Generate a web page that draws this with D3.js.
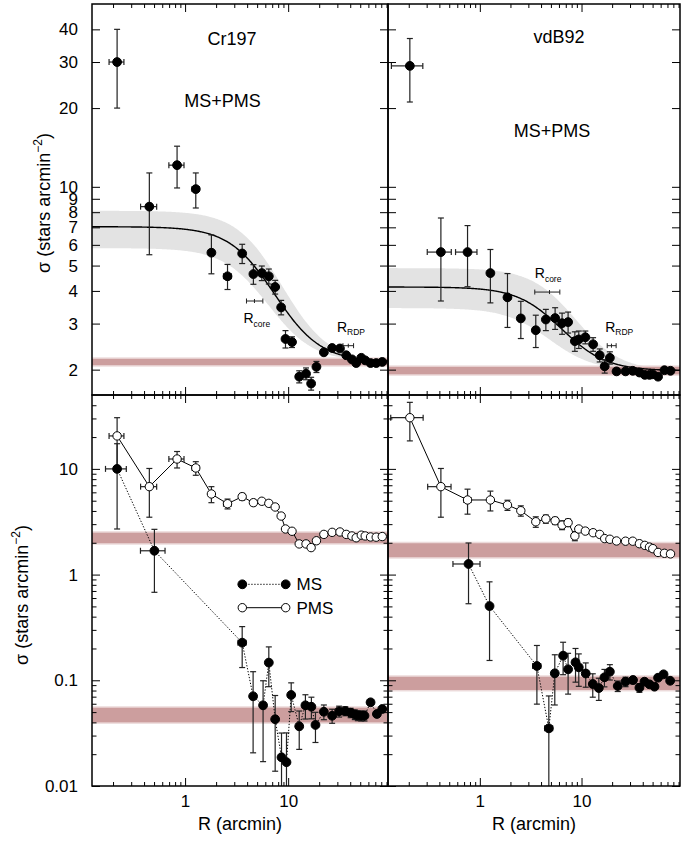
<!DOCTYPE html>
<html>
<head>
<meta charset="utf-8">
<script src="https://cdn.jsdelivr.net/npm/d3@7"></script>
<style>
  body { margin: 0; background: #fff; }
  svg { display: block; }
  text { font-family: "Liberation Sans", Arial, Helvetica, sans-serif; fill: #000; }
</style>
</head>
<body>
<svg id="chart" width="681" height="841"></svg>
<script>
// ---------------- data ----------------
// Cr197, all stars (MS+PMS)
const radiusCr197 = [0.219, 0.45, 0.836, 1.27, 1.80, 2.58, 3.58, 4.60, 5.55, 6.49, 7.48, 8.55, 9.42, 10.9, 12.8, 14.9, 16.7, 18.8, 22.2, 26.7, 31.8, 36.6, 41.5, 45.7, 51.2, 55.9, 63.0, 71.5, 81.8];
const radiusErrCr197 = [0.036, 0.08, 0.14, 0.1, 0.1, 0.22, 0.2, 0, 0, 0, 0, 0, 0, 0, 0, 0, 0, 0, 0, 0, 0, 0, 0, 0, 0, 0, 0, 0, 0];
const sigmaAllCr197 = [30.0, 8.4, 12.1, 9.8, 5.6, 4.55, 5.56, 4.64, 4.68, 4.55, 4.14, 3.46, 2.62, 2.55, 1.88, 1.93, 1.77, 2.05, 2.33, 2.42, 2.41, 2.27, 2.19, 2.12, 2.22, 2.17, 2.12, 2.12, 2.14];
const sigmaAllErrCr197 = [10, 2.9, 2.2, 1.5, 0.95, 0.5, 0.47, 0.4, 0.3, 0.3, 0.25, 0.22, 0.2, 0.12, 0.1, 0.1, 0.1, 0.1, 0.05, 0.05, 0.04, 0.04, 0.04, 0.03, 0.03, 0.03, 0.03, 0.03, 0.03];
// Cr197, PMS stars (same radial bins)
const sigmaPmsCr197 = [20.5, 6.79, 12.4, 10.2, 5.79, 4.68, 5.46, 4.79, 4.94, 4.72, 4.36, 3.58, 2.70, 2.57, 1.95, 1.95, 1.80, 2.09, 2.40, 2.51, 2.53, 2.40, 2.32, 2.23, 2.36, 2.32, 2.27, 2.26, 2.29];
const sigmaPmsErrCr197 = [10, 3.3, 2.2, 1.5, 1.0, 0.5, 0.4, 0.3, 0.25, 0.25, 0.2, 0.15, 0.12, 0.1, 0.08, 0.08, 0.08, 0.08, 0.05, 0.04, 0.04, 0.04, 0.04, 0.04, 0.04, 0.04, 0.04, 0.04, 0.04];
// Cr197, MS stars
const radiusMsCr197 = [0.219, 0.504, 3.58, 4.57, 5.71, 6.49, 7.48, 8.62, 9.63, 10.7, 12.8, 14.7, 16.8, 18.4, 22.2, 26.7, 31.2, 35.8, 40.4, 44.3, 47.4, 51.1, 55.0, 63.0, 72.6, 81.8];
const radiusMsErrCr197 = [0.05, 0.135, 0.32, 0, 0, 0, 0, 0, 0, 0, 0, 0, 0, 0, 0, 0, 0, 0, 0, 0, 0, 0, 0, 0, 0, 0];
const sigmaMsCr197 = [10.0, 1.68, 0.227, 0.0706, 0.058, 0.147, 0.0428, 0.0187, 0.0168, 0.0726, 0.0367, 0.058, 0.0562, 0.0378, 0.0504, 0.0462, 0.0509, 0.0512, 0.0493, 0.0475, 0.0465, 0.0462, 0.0462, 0.0619, 0.048, 0.0535];
const sigmaMsErrCr197 = [7.3, 1.0, 0.095, 0.05, 0.041, 0.06, 0.029, 0.013, 0.015, 0.022, 0.0145, 0.015, 0.013, 0.012, 0.008, 0.007, 0.006, 0.005, 0.005, 0.005, 0.005, 0.005, 0.005, 0.003, 0.003, 0.003];

// vdB92, all stars (MS+PMS)
const radiusVdB92 = [0.205, 0.414, 0.757, 1.27, 1.87, 2.53, 3.55, 4.46, 5.50, 6.44, 7.38, 8.60, 9.40, 10.9, 13.0, 15.1, 16.9, 19.0, 22.1, 27.1, 31.9, 37.1, 41.9, 46.6, 50.2, 56.6, 65.4, 75.0];
const radiusErrVdB92 = [0.07, 0.11, 0.18, 0.08, 0, 0, 0, 0, 0, 0, 0, 0, 0, 0, 0, 0, 0, 0, 0, 0, 0, 0, 0, 0, 0, 0, 0, 0];
const sigmaAllVdB92 = [29.0, 5.63, 5.63, 4.68, 3.78, 3.14, 2.83, 3.11, 3.15, 3.01, 3.04, 2.57, 2.61, 2.66, 2.50, 2.27, 2.06, 2.22, 1.97, 1.97, 1.98, 1.95, 1.91, 1.91, 1.92, 1.88, 1.99, 1.98];
const sigmaAllErrVdB92 = [7.9, 1.97, 1.48, 1.08, 0.88, 0.51, 0.4, 0.29, 0.3, 0.28, 0.28, 0.22, 0.2, 0.15, 0.15, 0.13, 0.12, 0.12, 0.05, 0.04, 0.04, 0.04, 0.04, 0.04, 0.03, 0.03, 0.03, 0.03];
// vdB92, PMS stars
const radiusPmsErrVdB92 = [0.072, 0.107, 0.06, 0.05, 0, 0, 0, 0, 0, 0, 0, 0, 0, 0, 0, 0, 0, 0, 0, 0, 0, 0, 0, 0, 0, 0, 0, 0];
const sigmaPmsVdB92 = [30.5, 6.79, 5.08, 5.08, 4.55, 4.02, 3.16, 3.36, 3.23, 2.94, 3.10, 2.32, 2.70, 2.58, 2.49, 2.40, 2.19, 2.16, 2.08, 2.07, 2.07, 1.96, 1.89, 1.82, 1.76, 1.62, 1.59, 1.57];
const sigmaPmsErrVdB92 = [12.1, 3.3, 1.35, 1.08, 0.5, 0.45, 0.36, 0.3, 0.25, 0.28, 0.25, 0.23, 0.1, 0.08, 0.06, 0.06, 0.05, 0.05, 0.04, 0.04, 0.04, 0.04, 0.04, 0.04, 0.04, 0.04, 0.04, 0.04];
// vdB92, MS stars
const radiusMsVdB92 = [0.774, 1.246, 3.64, 4.77, 5.46, 6.59, 7.38, 8.73, 9.40, 11.0, 12.9, 14.8, 16.8, 19.0, 22.7, 27.1, 32.1, 37.1, 41.6, 46.6, 52.2, 56.6, 64.1, 74.4];
const radiusMsErrVdB92 = [0.23, 0, 0.33, 0.43, 0, 0, 0, 0, 0, 0, 0, 0, 0, 0, 0, 0, 0, 0, 0, 0, 0, 0, 0, 0];
const sigmaMsVdB92 = [1.26, 0.504, 0.1365, 0.0351, 0.1164, 0.171, 0.127, 0.148, 0.1327, 0.116, 0.0922, 0.0845, 0.1067, 0.1206, 0.0883, 0.097, 0.1006, 0.085, 0.097, 0.0916, 0.087, 0.1058, 0.1139, 0.099];
const sigmaMsErrVdB92 = [0.73, 0.35, 0.077, 0.036, 0.058, 0.058, 0.053, 0.052, 0.045, 0.03, 0.023, 0.02, 0.02, 0.02, 0.01, 0.01, 0.008, 0.008, 0.006, 0.006, 0.005, 0.005, 0.005, 0.005];

// King-profile fits: [background, central excess density, core radius]
const kingFitCr197 = [2.14, 4.9, 5.5];
const kingUpperCr197 = [2.14, 5.96, 6.3];
const kingLowerCr197 = [2.14, 3.69, 5.0];
const kingFitVdB92 = [1.98, 2.16, 5.3];
const kingUpperVdB92 = [1.98, 2.91, 7.0];
const kingLowerVdB92 = [1.98, 1.46, 4.2];

// Field background levels [low, high]
const bgAllCr197 = [2.08, 2.20];
const bgPmsCr197 = [1.98, 2.49];
const bgMsCr197 = [0.040, 0.055];
const bgAllVdB92 = [1.92, 2.05];
const bgPmsVdB92 = [1.46, 1.98];
const bgMsVdB92 = [0.081, 0.108];

// Core and RDP radii markers: [value, low, high, sigma level]
const rCoreCr197 = [4.71, 3.94, 5.68, 3.66];
const rRdpCr197 = [38.3, 34.0, 43.1, 2.47];
const rCoreVdB92 = [4.84, 3.47, 6.12, 3.96];
const rRdpVdB92 = [19.7, 17.9, 21.9, 2.47];

// Axes
const xDomain = [0.125, 93];
const sigmaTopDomain = [1.6, 50];
const sigmaBottomDomain = [0.01, 50];
const xLabelTicks = [1, 10];
const yTopLabelTicks = [2, 3, 4, 5, 6, 7, 8, 9, 10, 20, 30, 40];
const yBottomLabelTicks = [0.01, 0.1, 1, 10];

// ---------------- drawing ----------------
const svg = d3.select('#chart');
svg.append('rect').attr('width', 681).attr('height', 841).attr('fill', '#fff');

const frame = { left: 92, mid: 388, right: 680, top: 4, midY: 395, bottom: 786 };
const king = p => r => p[0] + p[1] / (1 + (r / p[2]) ** 2);
const rGrid = d3.range(0, 301).map(i => xDomain[0] * Math.pow(xDomain[1] / xDomain[0], i / 300));

function makePanel(id, x0, x1, y0, y1, yDomain) {
  const x = d3.scaleLog().domain(xDomain).range([x0, x1]);
  const y = d3.scaleLog().domain(yDomain).range([y1, y0]);
  svg.append('clipPath').attr('id', 'clip-' + id)
    .append('rect').attr('x', x0).attr('y', y0).attr('width', x1 - x0).attr('height', y1 - y0);
  const g = svg.append('g').attr('clip-path', `url(#clip-${id})`);
  return { id, x, y, x0, x1, y0, y1, g };
}

function band(p, range) {
  p.g.append('rect')
    .attr('x', p.x0).attr('width', p.x1 - p.x0)
    .attr('y', p.y(range[1]) - 1.5).attr('height', p.y(range[0]) - p.y(range[1]) + 3)
    .attr('fill', '#ecdada');
  p.g.append('rect')
    .attr('x', p.x0).attr('width', p.x1 - p.x0)
    .attr('y', p.y(range[1])).attr('height', p.y(range[0]) - p.y(range[1]))
    .attr('fill', '#cc9e9e');
}

function kingFit(p, fit, upper, lower) {
  const fu = king(upper), fl = king(lower), f = king(fit);
  p.g.append('path')
    .attr('d', d3.area().x(r => p.x(r)).y0(r => p.y(fl(r))).y1(r => p.y(fu(r))).curve(d3.curveMonotoneX)(rGrid))
    .attr('fill', '#e3e3e3');
  return () => p.g.append('path')
    .attr('d', d3.line().x(r => p.x(r)).y(r => p.y(f(r))).curve(d3.curveMonotoneX)(rGrid))
    .attr('fill', 'none').attr('stroke', '#000').attr('stroke-width', 1.4);
}

function connect(p, R, S, dashed) {
  p.g.append('path')
    .attr('d', d3.line().x(r => p.x(r)).y((r, i) => p.y(S[i]))(R))
    .attr('fill', 'none').attr('stroke', '#000').attr('stroke-width', 1)
    .attr('stroke-dasharray', dashed ? '1.3,1.7' : null);
}

function errorBars(p, R, S, dS, dR) {
  const cap = 3;
  const eg = p.g.append('g').attr('stroke', '#222').attr('stroke-width', 1.2);
  R.forEach((r, i) => {
    const cx = p.x(r);
    const lo = S[i] - dS[i], hi = S[i] + dS[i];
    const yHi = p.y(hi);
    const yLo = lo > 0 ? p.y(lo) : p.y1 + 20;
    eg.append('line').attr('x1', cx).attr('x2', cx).attr('y1', yHi).attr('y2', yLo);
    eg.append('line').attr('x1', cx - cap).attr('x2', cx + cap).attr('y1', yHi).attr('y2', yHi);
    if (lo > 0) eg.append('line').attr('x1', cx - cap).attr('x2', cx + cap).attr('y1', yLo).attr('y2', yLo);
    if (dR && dR[i] > 0) {
      const cy = p.y(S[i]);
      const xl = p.x(r - dR[i]), xr = p.x(r + dR[i]);
      eg.append('line').attr('x1', xl).attr('x2', xr).attr('y1', cy).attr('y2', cy);
      eg.append('line').attr('x1', xl).attr('x2', xl).attr('y1', cy - cap).attr('y2', cy + cap);
      eg.append('line').attr('x1', xr).attr('x2', xr).attr('y1', cy - cap).attr('y2', cy + cap);
    }
  });
}

function dots(p, R, S, filled) {
  p.g.append('g').selectAll('circle').data(R).join('circle')
    .attr('cx', r => p.x(r)).attr('cy', (r, i) => p.y(S[i]))
    .attr('r', filled ? 4.4 : 4.2)
    .attr('fill', filled ? '#000' : '#fff')
    .attr('stroke', '#000').attr('stroke-width', 1);
}

function radiusMarker(p, m, name, labelR, labelDx, labelDy) {
  const g = svg.append('g').attr('stroke', '#222').attr('stroke-width', 1);
  const cy = p.y(m[3]);
  g.append('line').attr('x1', p.x(m[1])).attr('x2', p.x(m[2])).attr('y1', cy).attr('y2', cy);
  [m[1], m[2]].forEach(v => g.append('line').attr('x1', p.x(v)).attr('x2', p.x(v)).attr('y1', cy - 2.5).attr('y2', cy + 2.5));
  g.append('line').attr('x1', p.x(m[0])).attr('x2', p.x(m[0])).attr('y1', cy - 2).attr('y2', cy + 2);
  const t = svg.append('text').attr('x', p.x(labelR) + labelDx).attr('y', cy + labelDy)
    .attr('font-size', 14).attr('fill', '#222');
  t.append('tspan').text('R');
  t.append('tspan').attr('font-size', 8.5).attr('dy', 3.5).text(name);
}

function axes(p, yLabelTicks, showX, showY) {
  const ax = svg.append('g').attr('stroke-width', 1);
  const yAll = p.y.ticks().filter(v => v > p.y.domain()[0] * 1.0001 && v < p.y.domain()[1] * 0.9999);
  const xAll = p.x.ticks().filter(v => v > xDomain[0] && v < xDomain[1]);
  const xMinor = xAll.filter(v => !xLabelTicks.includes(v));
  const yMinor = yAll.filter(v => !yLabelTicks.includes(v) && !yBottomLabelTicks.includes(v));
  const bigY = p.y.domain()[1] / p.y.domain()[0] > 100;
  const yMajor = yLabelTicks;
  const yMinorLen = bigY ? 4.5 : 7;

  const style = sel => { sel.select('.domain').remove(); sel.selectAll('line').attr('stroke', '#000'); };
  const lbl = sel => sel.selectAll('text').attr('font-size', 17).attr('font-family', null).attr('fill', '#000');

  // bottom and top edges
  ax.append('g').attr('transform', `translate(0,${p.y1})`)
    .call(d3.axisBottom(p.x).tickValues(xLabelTicks).tickSize(-8).tickPadding(9).tickFormat(showX ? d3.format('') : () => ''))
    .call(style).call(lbl);
  ax.append('g').attr('transform', `translate(0,${p.y1})`)
    .call(d3.axisBottom(p.x).tickValues(xMinor).tickSize(-4).tickFormat(() => '')).call(style);
  ax.append('g').attr('transform', `translate(0,${p.y0})`)
    .call(d3.axisTop(p.x).tickValues(xLabelTicks).tickSize(-8).tickFormat(() => '')).call(style);
  ax.append('g').attr('transform', `translate(0,${p.y0})`)
    .call(d3.axisTop(p.x).tickValues(xMinor).tickSize(-4).tickFormat(() => '')).call(style);
  // left and right edges
  ax.append('g').attr('transform', `translate(${p.x0},0)`)
    .call(d3.axisLeft(p.y).tickValues(yMajor).tickSize(-8).tickPadding(14).tickFormat(showY ? d3.format('~g') : () => ''))
    .call(style).call(lbl);
  ax.append('g').attr('transform', `translate(${p.x0},0)`)
    .call(d3.axisLeft(p.y).tickValues(yMinor).tickSize(-yMinorLen).tickFormat(() => '')).call(style);
  ax.append('g').attr('transform', `translate(${p.x1},0)`)
    .call(d3.axisRight(p.y).tickValues(yMajor).tickSize(-8).tickFormat(() => '')).call(style);
  ax.append('g').attr('transform', `translate(${p.x1},0)`)
    .call(d3.axisRight(p.y).tickValues(yMinor).tickSize(-yMinorLen).tickFormat(() => '')).call(style);

  svg.append('rect').attr('x', p.x0).attr('y', p.y0).attr('width', p.x1 - p.x0).attr('height', p.y1 - p.y0)
    .attr('fill', 'none').attr('stroke', '#000').attr('stroke-width', 1.5);
}

// ---- top left: Cr197, MS+PMS ----
const tl = makePanel('tl', frame.left, frame.mid, frame.top, frame.midY, sigmaTopDomain);
const tlCurve = kingFit(tl, kingFitCr197, kingUpperCr197, kingLowerCr197);
band(tl, bgAllCr197);
tlCurve();
errorBars(tl, radiusCr197, sigmaAllCr197, sigmaAllErrCr197, radiusErrCr197);
dots(tl, radiusCr197, sigmaAllCr197, true);

// ---- top right: vdB92, MS+PMS ----
const tr = makePanel('tr', frame.mid, frame.right, frame.top, frame.midY, sigmaTopDomain);
const trCurve = kingFit(tr, kingFitVdB92, kingUpperVdB92, kingLowerVdB92);
band(tr, bgAllVdB92);
trCurve();
errorBars(tr, radiusVdB92, sigmaAllVdB92, sigmaAllErrVdB92, radiusErrVdB92);
dots(tr, radiusVdB92, sigmaAllVdB92, true);

// ---- bottom left: Cr197, MS and PMS ----
const bl = makePanel('bl', frame.left, frame.mid, frame.midY, frame.bottom, sigmaBottomDomain);
band(bl, bgPmsCr197);
band(bl, bgMsCr197);
connect(bl, radiusMsCr197, sigmaMsCr197, true);
connect(bl, radiusCr197, sigmaPmsCr197, false);
errorBars(bl, radiusMsCr197, sigmaMsCr197, sigmaMsErrCr197, radiusMsErrCr197);
errorBars(bl, radiusCr197, sigmaPmsCr197, sigmaPmsErrCr197, radiusErrCr197);
dots(bl, radiusMsCr197, sigmaMsCr197, true);
dots(bl, radiusCr197, sigmaPmsCr197, false);

// ---- bottom right: vdB92, MS and PMS ----
const br = makePanel('br', frame.mid, frame.right, frame.midY, frame.bottom, sigmaBottomDomain);
band(br, bgPmsVdB92);
band(br, bgMsVdB92);
connect(br, radiusMsVdB92, sigmaMsVdB92, true);
connect(br, radiusVdB92, sigmaPmsVdB92, false);
errorBars(br, radiusMsVdB92, sigmaMsVdB92, sigmaMsErrVdB92, radiusMsErrVdB92);
errorBars(br, radiusVdB92, sigmaPmsVdB92, sigmaPmsErrVdB92, radiusPmsErrVdB92);
dots(br, radiusMsVdB92, sigmaMsVdB92, true);
dots(br, radiusVdB92, sigmaPmsVdB92, false);

// ---- axes and frames ----
axes(tl, yTopLabelTicks, false, true);
axes(tr, yTopLabelTicks, false, false);
axes(bl, yBottomLabelTicks, true, true);
axes(br, yBottomLabelTicks, true, false);

// ---- radius markers ----
radiusMarker(tl, rCoreCr197, 'core', rCoreCr197[1], -3, 22);
radiusMarker(tl, rRdpCr197, 'RDP', rRdpCr197[1], -6, -14);
radiusMarker(tr, rCoreVdB92, 'core', rCoreVdB92[1], 0, -14);
radiusMarker(tr, rRdpVdB92, 'RDP', rRdpVdB92[1], -2, -14);

// ---- panel titles ----
const title = (x, y, s) => svg.append('text').attr('x', x).attr('y', y).attr('text-anchor', 'middle').attr('font-size', 18).text(s);
title(232, 45, 'Cr197');
title(222.5, 107, 'MS+PMS');
title(559, 42.5, 'vdB92');
title(552, 137, 'MS+PMS');

// ---- legend ----
const legend = svg.append('g');
[[584.3, true, 'MS'], [607.7, false, 'PMS']].forEach(([ly, filled, name]) => {
  legend.append('line').attr('x1', 242.3).attr('x2', 285.7).attr('y1', ly).attr('y2', ly)
    .attr('stroke', '#000').attr('stroke-width', 1).attr('stroke-dasharray', filled ? '1.3,1.7' : null);
  [242.3, 285.7].forEach(cx => legend.append('circle').attr('cx', cx).attr('cy', ly).attr('r', filled ? 4.4 : 4.2)
    .attr('fill', filled ? '#000' : '#fff').attr('stroke', '#000'));
  legend.append('text').attr('x', 296.5).attr('y', ly + 6).attr('font-size', 17).text(name);
});

// ---- axis titles ----
[[240, 830], [534, 830]].forEach(([cx, cy]) =>
  svg.append('text').attr('x', cx).attr('y', cy).attr('text-anchor', 'middle').attr('font-size', 18).text('R (arcmin)'));

function sigmaTitle(x, y) {
  const t = svg.append('text').attr('transform', `translate(${x},${y}) rotate(-90)`)
    .attr('text-anchor', 'middle').attr('font-size', 18);
  t.append('tspan').text('σ (stars arcmin');
  t.append('tspan').attr('font-size', 12).attr('dy', -8).text('−2');
  t.append('tspan').attr('dy', 8).text(')');
}
sigmaTitle(50, 203);
sigmaTitle(28, 595);
</script>
</body>
</html>
